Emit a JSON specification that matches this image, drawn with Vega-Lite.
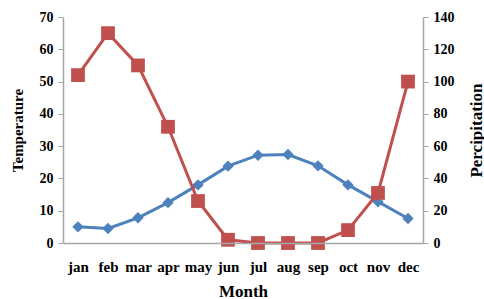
{
  "$schema": "https://vega.github.io/schema/vega-lite/v6.json",
  "width": 360,
  "height": 226,
  "autosize": {"type": "none"},
  "padding": {"left": 63, "top": 17, "right": 61, "bottom": 56},
  "background": "white",
  "config": {
    "view": {"stroke": null},
    "font": "Liberation Serif",
    "axis": {
      "labelFont": "Liberation Serif",
      "titleFont": "Liberation Serif",
      "labelFontWeight": "bold",
      "titleFontWeight": "bold",
      "labelColor": "#000000",
      "titleColor": "#000000",
      "domainColor": "#A6A6A6",
      "tickColor": "#A6A6A6",
      "grid": false
    }
  },
  "data": {
    "values": [
      {"month": "jan", "temperature": 5.0, "precipitation": 104},
      {"month": "feb", "temperature": 4.5, "precipitation": 130},
      {"month": "mar", "temperature": 7.8, "precipitation": 110},
      {"month": "apr", "temperature": 12.5, "precipitation": 72},
      {"month": "may", "temperature": 18.0, "precipitation": 26},
      {"month": "jun", "temperature": 23.8, "precipitation": 2},
      {"month": "jul", "temperature": 27.2, "precipitation": 0},
      {"month": "aug", "temperature": 27.4, "precipitation": 0},
      {"month": "sep", "temperature": 23.9, "precipitation": 0},
      {"month": "oct", "temperature": 18.0, "precipitation": 8},
      {"month": "nov", "temperature": 12.8, "precipitation": 31},
      {"month": "dec", "temperature": 7.6, "precipitation": 100}
    ]
  },
  "encoding": {
    "x": {
      "field": "month",
      "type": "ordinal",
      "sort": null,
      "scale": {"type": "point", "padding": 0.5},
      "axis": {
        "title": "Month",
        "labelAngle": 0,
        "labelFontSize": 15,
        "titleFontSize": 17,
        "ticks": false,
        "labelPadding": 16,
        "titlePadding": 9,
        "domainWidth": 1.5,
        "zindex": 1
      }
    }
  },
  "layer": [
    {
      "mark": {
        "type": "line",
        "color": "#4F81BD",
        "strokeWidth": 3,
        "point": {"shape": "diamond", "size": 130, "filled": true, "color": "#4F81BD"}
      },
      "encoding": {
        "y": {
          "field": "temperature",
          "type": "quantitative",
          "scale": {"domain": [0, 70], "nice": false},
          "axis": {
            "orient": "left",
            "title": "Temperature",
            "values": [0, 10, 20, 30, 40, 50, 60, 70],
            "labelFontSize": 14,
            "titleFontSize": 15,
            "tickSize": 5,
            "labelPadding": 5,
            "titlePadding": 14,
            "domainWidth": 1.5
          }
        }
      }
    },
    {
      "mark": {
        "type": "line",
        "color": "#C0504D",
        "strokeWidth": 3,
        "point": {"shape": "square", "size": 190, "filled": true, "color": "#C0504D"}
      },
      "encoding": {
        "y": {
          "field": "precipitation",
          "type": "quantitative",
          "scale": {"domain": [0, 140], "nice": false},
          "axis": {
            "orient": "right",
            "title": "Percipitation",
            "titleAngle": 270,
            "values": [0, 20, 40, 60, 80, 100, 120, 140],
            "labelFontSize": 14,
            "titleFontSize": 17,
            "tickSize": 5,
            "labelPadding": 5,
            "titlePadding": 31,
            "domainWidth": 1.5
          }
        }
      }
    }
  ],
  "resolve": {"scale": {"y": "independent"}}
}
